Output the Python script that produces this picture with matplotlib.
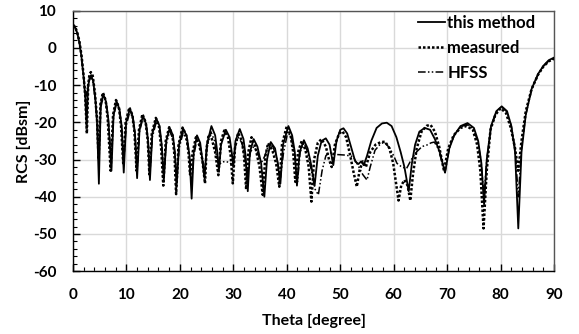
import matplotlib
matplotlib.use("Agg")
import matplotlib.pyplot as plt
from matplotlib.ticker import MultipleLocator

plt.rcParams['font.family'] = ['Lato', 'DejaVu Sans']
plt.rcParams['font.weight'] = 'bold'
plt.rcParams['axes.unicode_minus'] = False

# ---- this method (solid) ----
sol_t = [0.0, 0.4, 0.8, 1.2, 1.6, 2.0, 2.3, 2.55, 2.8, 3.1, 3.4, 3.8, 4.2, 4.5, 4.85, 5.2, 5.7, 6.2, 6.6, 7.2,
         7.6, 8.15, 8.7, 9.1, 9.5, 9.95, 10.65, 11.2, 11.6, 12.0, 12.45, 13.1, 13.7, 14.05, 14.4, 14.85, 15.6,
         16.2, 16.6, 17.0, 17.45, 18.1, 18.7, 19.05, 19.4, 19.85, 20.6, 21.3, 21.8, 22.2, 22.6, 23.2, 23.8,
         24.2, 24.6, 25.05, 25.9, 26.6, 27.0, 27.3, 27.7, 28.6, 29.3, 29.7, 30.0, 30.4, 31.2, 31.9, 32.3,
         32.7, 33.1, 33.8, 34.5, 35.2, 35.8, 36.3, 37.0, 37.8, 38.3, 38.8, 39.3, 40.3, 41.0, 41.5, 41.9,
         42.4, 43.2, 43.9, 44.5, 45.2, 45.8, 46.5, 47.3, 48.0, 48.7, 49.3, 50.0, 50.6, 51.3, 52.0, 52.8,
         53.4, 53.9, 54.4, 55.0, 55.8, 56.8, 57.8, 58.7, 59.6, 60.5, 61.3, 62.0, 62.8, 63.4, 64.0, 64.8,
         65.8, 66.8, 67.7, 68.6, 69.6, 70.4, 71.3, 72.5, 73.8, 75.0, 75.8, 76.4, 76.9, 77.4, 78.2, 79.2,
         80.2, 81.2, 82.0, 82.7, 83.3, 83.9, 84.7, 85.8, 87.0, 88.0, 89.0, 90.0]
sol_v = [6.0, 5.5, 4.0, 1.5, -2.5, -8.0, -13, -21, -11, -8, -7.3, -9, -14, -20, -36.5, -15, -12.5, -14.5, -19, -33,
         -18, -14.3, -16.5, -21, -33.5, -20, -16.3, -18.5, -23, -35, -22, -18.2, -20.5, -25, -35.5, -23, -19,
         -21, -26, -35.5, -25, -21.5, -23.5, -28, -37, -26, -21.6, -23.8, -29, -40.5, -28, -23.5, -25.5,
         -30, -35, -26, -21.0, -23.5, -28, -33, -26, -22, -24, -28, -32, -25, -21.8, -24.5, -29,
         -38.5, -28, -24.5, -26.5, -31, -40, -30, -25.3, -27, -31, -36.5, -26, -21.0, -23.5, -28, -37,
         -28, -24.8, -27, -31, -37, -29, -25, -24.3, -26, -31.5, -25, -22, -21.6, -23, -26.5, -30.5,
         -31.2, -30.5, -31.5, -29, -25, -21.5, -20.3, -20.1, -21, -24, -28, -32, -38.5, -31, -26, -22.5,
         -21.5, -22, -24.5, -28, -33.5, -27, -23.5, -21, -20.2, -21.5, -25, -31, -42, -30, -21, -17,
         -15.7, -17, -21, -28, -48.5, -28, -18, -11, -7, -4.8, -3.3, -2.6]

# ---- measured (dotted) ----
mea_t = [0.0, 0.4, 0.8, 1.2, 1.6, 2.0, 2.3, 2.6, 2.85, 3.1, 3.35, 3.7, 4.1, 4.5, 4.8, 5.15, 5.6, 6.1, 6.5, 7.05,
         7.5, 8.05, 8.6, 9.0, 9.4, 9.85, 10.55, 11.1, 11.5, 11.9, 12.35, 13.0, 13.6, 14.0, 14.3, 14.75, 15.5,
         16.1, 16.5, 16.9, 17.35, 18.0, 18.6, 19.0, 19.3, 19.75, 20.5, 21.2, 21.6, 21.9, 22.4, 23.0, 23.6,
         24.2, 24.7, 25.0, 25.4, 25.9, 26.6, 27.2, 27.7, 28.3, 29.0, 29.5, 29.9, 30.3, 30.9, 31.6, 32.0,
         32.4, 32.8, 33.4, 34.1, 34.9, 35.5, 36.0, 36.5, 37.3, 38.0, 38.6, 39.1, 40.0, 40.7, 41.2, 41.6,
         42.1, 42.8, 43.5, 44.1, 44.6, 45.1, 45.8, 46.5, 47.3, 47.9, 48.4, 49.0, 49.8, 50.4, 51.1, 51.8,
         52.5, 53.1, 53.6, 54.2, 54.8, 55.6, 56.6, 57.6, 58.4, 59.2, 59.9, 60.4, 60.9, 61.4, 62.0, 62.6,
         63.1, 63.6, 64.3, 65.2, 66.2, 66.9, 67.7, 68.5, 69.4, 70.2, 71.2, 72.5, 73.6, 74.8, 75.6, 76.2,
         76.8, 77.4, 78.1, 79.0, 80.0, 81.0, 81.9, 82.7, 83.3, 83.9, 84.7, 85.8, 87.0, 88.0, 89.0, 90.0]
mea_v = [6.2, 5.7, 4.2, 1.8, -2, -7.5, -13, -23, -10, -7, -6.5, -7.5, -12, -19, -30, -15, -12, -14, -19, -33,
         -18, -14, -16, -21, -31, -20, -16, -18, -22.5, -33, -22, -17.8, -20, -25, -34, -23, -18.8,
         -21, -27, -37, -25, -21.3, -23.5, -29, -39.3, -26, -21.4, -23.5, -28, -34, -28, -24, -26,
         -30, -36.4, -27, -23.2, -24, -28, -34.2, -25, -22.2, -24, -29, -36.4, -27, -22.8, -25, -29,
         -38, -28, -24, -26.5, -32, -39.5, -29, -25.6, -27.5, -31, -37.3, -26, -21, -23.5, -28, -36,
         -28, -25, -27.5, -32, -41.3, -30, -25.5, -24.5, -26.5, -30, -32, -26, -23, -22.4, -24, -28.5,
         -33.5, -37.3, -33, -30.5, -32, -28, -26, -25.3, -25.2, -27, -31, -36, -41, -37, -35.5, -37,
         -41, -34, -27, -22.5, -20.9, -20.7, -22.5, -26.5, -33, -27, -23.5, -21.5, -21.0, -22, -26, -33,
         -48.5, -33, -22, -18, -16.2, -17.5, -21.5, -27, -33, -25, -17, -11, -7.2, -5, -3.6, -2.9]

# ---- HFSS (dash-dot-dot) ----
hfs_t = [0.0, 0.4, 0.8, 1.2, 1.6, 2.0, 2.4, 2.8, 3.3, 3.8, 4.2, 4.5, 4.85, 5.2, 5.7, 6.2, 6.6, 7.15, 7.6, 8.15,
         8.7, 9.1, 9.5, 9.95, 10.65, 11.2, 11.6, 12.0, 12.45, 13.1, 13.7, 14.05, 14.4, 14.85, 15.6, 16.2, 16.6,
         17.0, 17.45, 18.1, 18.7, 19.05, 19.4, 19.85, 20.6, 21.3, 21.8, 22.2, 22.6, 23.2, 23.8, 24.2, 24.6,
         25.05, 25.8, 26.5, 26.9, 27.3, 27.8, 28.5, 29.3, 29.8, 30.3, 30.9, 31.6, 32.1, 32.6, 33.2, 33.8,
         34.5, 35.2, 35.9, 36.6, 37.4, 38.2, 38.8, 39.4, 40.2, 40.9, 41.5, 42.0, 42.5, 43.2, 43.9, 44.6,
         45.3, 45.9, 46.6, 47.3, 47.9, 48.8, 50.0, 51.0, 52.4, 53.3, 54.2, 55.0, 55.6, 56.5, 57.4, 58.2,
         59.2, 60.0, 60.6, 61.5, 62.4, 63.3, 64.3, 65.3, 66.2, 67.0, 67.6, 68.3, 68.9, 69.6, 70.4, 71.3,
         72.5, 73.7, 74.9, 75.7, 76.3, 76.9, 77.4, 78.2, 79.2, 80.2, 81.2, 82.0, 82.7, 83.3, 83.9, 84.7,
         85.8, 87.0, 88.0, 89.0, 90.0]
hfs_v = [6.0, 5.5, 4.0, 1.5, -2.5, -8, -13, -10, -7.8, -9.5, -14, -19, -30, -16, -13, -15, -19, -30, -18.5, -14.8,
         -17, -21, -30, -21, -17, -19, -23, -32, -22.5, -18.8, -21, -25, -33, -24, -19.8, -22, -26,
         -34, -26, -22.3, -24.5, -28, -35, -27, -22.8, -25, -29, -36, -29, -24.5, -26.5, -30, -34,
         -27, -22.5, -25, -30, -31.5, -30.7, -30.5, -30.8, -31.5, -27, -24, -25.5, -29, -34, -28, -26.5,
         -28, -31, -29, -26, -26.5, -30, -35, -28, -22.5, -24.5, -29, -36, -28, -25.5, -28, -33,
         -38, -39.5, -33, -29, -28, -28.6, -28.7, -28.8, -29.2, -31.5, -34, -35.5, -32, -27.5, -26, -25.3,
         -26.8, -29, -31, -32, -32.4, -30, -27.9, -26.5, -26.1, -25.5, -25.3, -27, -30, -33.5, -27, -23.5,
         -21.2, -20.6, -21.8, -25, -30, -40, -30, -21.5, -17.2, -15.9, -17.2, -21, -27, -40, -27, -18,
         -11.2, -7.2, -5, -3.5, -2.8]

labels = ['this method', 'measured', 'HFSS']

fig = plt.figure(figsize=(5.79, 3.34), dpi=100)
ax = fig.add_axes([0.126, 0.188, 0.831, 0.780])

ax.plot(sol_t, sol_v, color='black', lw=1.3, ls='-', label=labels[0], zorder=3)
ax.plot(mea_t, mea_v, color='black', lw=1.8, ls=(0, (1.0, 0.8)), dash_capstyle='butt',
        label=labels[1], zorder=4)
ax.plot(hfs_t, hfs_v, color='black', lw=1.1, ls=(0, (5, 1.5, 1, 1.5, 1, 1.5)), label=labels[2], zorder=2)

ax.set_xlim(0, 90)
ax.set_ylim(-60, 10)
ax.xaxis.set_major_locator(MultipleLocator(10))
ax.xaxis.set_minor_locator(MultipleLocator(2))
ax.yaxis.set_major_locator(MultipleLocator(10))
ax.yaxis.set_minor_locator(MultipleLocator(2))
ax.tick_params(which='both', direction='in', top=False, right=False, colors='black',
               labelsize=11)
ax.tick_params(axis='y', which='major', pad=12)
ax.tick_params(axis='x', which='major', pad=12)
ax.tick_params(which='major', length=5, width=1)
ax.tick_params(which='minor', length=3, width=0.8)
for lab in ax.get_xticklabels() + ax.get_yticklabels():
    lab.set_fontweight('bold')
ax.grid(True, which='major', color='#d9d9d9', lw=1)
ax.set_axisbelow(True)
for s in ax.spines.values():
    s.set_color('black')
    s.set_linewidth(1)
ax.spines['top'].set_color('#555555')
ax.spines['right'].set_color('#555555')

ax.set_xlabel('Theta [degree]', fontsize=11.5, fontweight='bold', labelpad=9)
ax.set_ylabel('RCS [dBsm]', fontsize=11.5, fontweight='bold', labelpad=1)

leg = ax.legend(loc='upper right', bbox_to_anchor=(0.975, 1.01), frameon=False,
                handlelength=1.6, handletextpad=0.15, labelspacing=0.55,
                borderaxespad=0.2, borderpad=0.2,
                prop={'weight': 'bold', 'size': 12})

fig.savefig('out.png', dpi=100)
